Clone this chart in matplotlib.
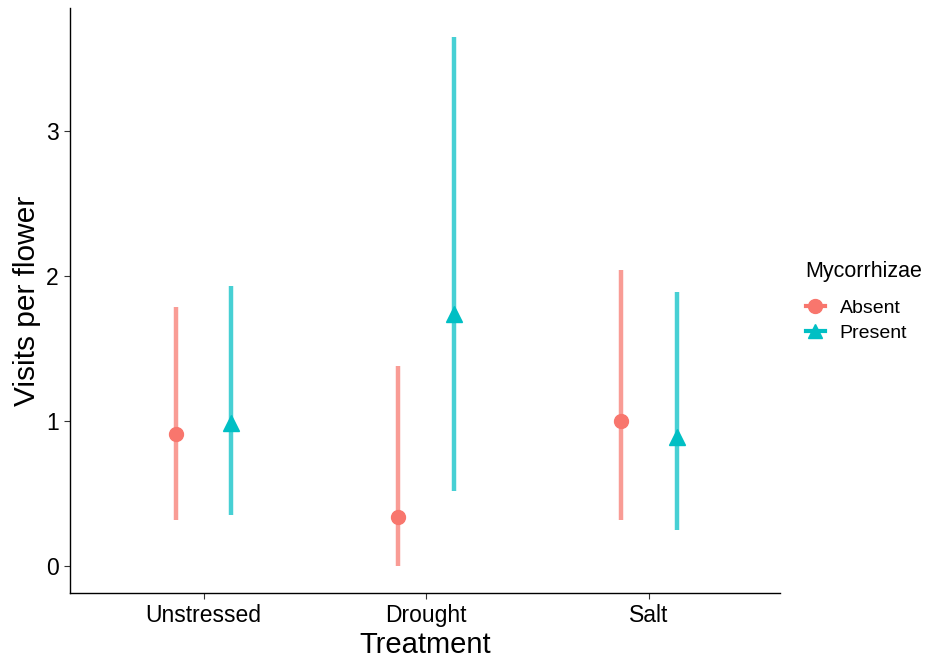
import matplotlib
matplotlib.use("Agg")
import matplotlib.pyplot as plt
from matplotlib.lines import Line2D
import numpy as np

plt.rcParams['font.family'] = ['Liberation Sans', 'DejaVu Sans']

treatments = ["Unstressed", "Drought", "Salt"]
groups = ["Absent", "Present"]
colors = ["#F8766D", "#00BFC4"]
markers = ["o", "^"]

# mean and interval per group, ordered as treatments
means = {"Absent": [0.91, 0.34, 1.00], "Present": [0.99, 1.74, 0.89]}
lower = {"Absent": [0.32, 0.00, 0.32], "Present": [0.35, 0.52, 0.25]}
upper = {"Absent": [1.79, 1.38, 2.04], "Present": [1.93, 3.65, 1.89]}

fig = plt.figure(figsize=(9.29, 6.59), dpi=100)
ax = fig.add_axes([70 / 929, 66 / 659, 710 / 929, 585 / 659])

x = np.arange(1, len(treatments) + 1)
dodge = 0.125
for i, g in enumerate(groups):
    xs = x + (i - 0.5) * 2 * dodge
    ax.vlines(xs, lower[g], upper[g], color=colors[i], lw=3.2, alpha=0.72, zorder=2)
    ax.plot(xs, means[g], linestyle="none", marker=markers[i], color=colors[i],
            markersize=10 if i == 0 else 11.5, zorder=3)

ax.set_xlim(0.40, 3.59)
ax.set_ylim(-0.186, 3.85)
ax.set_xticks(x)
ax.set_xticklabels(treatments)
ax.set_yticks([0, 1, 2, 3])
ax.tick_params(axis="both", labelsize=16.5, length=4, width=0.8, color="#333333", pad=4)
for s in ["top", "right"]:
    ax.spines[s].set_visible(False)
for s in ["left", "bottom"]:
    ax.spines[s].set_linewidth(1.0)
    ax.spines[s].set_color("black")

ax.set_xlabel("Treatment", fontsize=21, labelpad=3)
ax.set_ylabel("Visits per flower", fontsize=21.5, labelpad=4)

handles = [Line2D([0], [0], color=colors[i], marker=markers[i], lw=3, alpha=1,
                  markersize=10, label=g) for i, g in enumerate(groups)]
leg = fig.legend(handles=handles, title="Mycorrhizae", loc="upper left",
                 bbox_to_anchor=(792 / 929, 1 - 247 / 659), frameon=False,
                 fontsize=14, title_fontsize=15.5, handlelength=1.0,
                 handletextpad=0.75, labelspacing=0.35, alignment="left",
                 borderpad=0.2)
leg._legend_box.sep = 13

fig.savefig("out.png", dpi=100)
